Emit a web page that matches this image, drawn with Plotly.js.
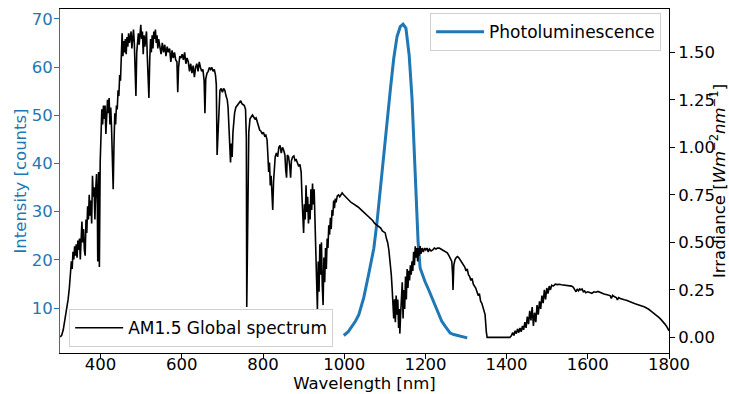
<!DOCTYPE html>
<html>
<head>
<meta charset="utf-8">
<script src="https://cdn.plot.ly/plotly-3.0.1.min.js"></script>
<style>html,body{margin:0;padding:0;background:#fff;}</style>
</head>
<body>
<div id="chart" style="width:729px;height:394px;"></div>
<script>
// AM1.5 Global spectrum (wavelength nm, irradiance W m^-2 nm^-1)
const amNm = [300,304,308,312,316,320,323,326,328,330,332,334,336,338,340,342,344,346,348,350,352,354,356,358,360,362,364,366,368,370,372,374,376,378,380,382,384,386,388,390,392,393,395,397,399,
401,403,405,407,409,411,413,415,417,419,421,423,425,427,429,431,433,435,437,439,441,443,445,447,449,451,453,455,457,459,461,463,465,467,469,471,473,475,477,479,481,483,485,487,489,491,493,495,497,499,
501,503,505,507,509,511,513,515,517,519,521,523,525,527,529,531,533,535,537,539,541,543,546,549,552,555,558,561,564,567,570,573,576,579,582,585,588,590,592,595,598,
601,604,607,610,613,616,619,622,625,628,631,634,637,640,643,646,649,652,655,657,659,662,665,668,671,674,677,680,683,685,687,689,691,694,697,
700,703,706,709,712,714,716,718,720,722,724,726,728,730,733,736,739,742,745,748,751,754,757,759,760,761,763,765,768,771,774,777,780,783,786,789,792,795,798,
801,804,807,810,812,814,816,818,820,822,824,826,828,830,833,836,839,842,845,848,851,854,856,858,860,863,866,868,870,873,876,879,882,885,888,891,894,896,898,
900,902,904,906,908,910,912,914,916,918,920,922,924,926,928,930,932,934,936,938,940,942,944,946,948,950,952,954,956,958,960,962,964,966,968,970,972,974,976,978,980,983,986,989,992,995,998,
1001,1005,1009,1013,1017,1021,1025,1030,1035,1040,1045,1050,1055,1060,1065,1070,1075,1080,1085,1090,1094,1098,
1101,1104,1107,1110,1113,1116,1118,1120,1122,1124,1126,1128,1130,1132,1134,1136,1137,1139,1141,1143,1145,1147,1149,1151,1153,1155,1157,1159,1161,1163,1165,1167,1169,1171,1173,1175,1177,1179,1181,1183,1185,1187,1189,1192,1195,1198,
1201,1204,1207,1210,1214,1218,1222,1226,1230,1234,1238,1242,1246,1250,1254,1258,1262,1265,1267,1268,1270,1273,1276,1279,1282,1285,1288,1291,1294,1297,
1300,1303,1306,1309,1312,1315,1318,1321,1324,1327,1330,1333,1336,1339,1342,1345,1347,1350,1352,1380,
1408,1412,1415,1418,1421,1424,1427,1430,1433,1436,1439,1442,1445,1448,1451,1454,1457,1460,1463,1466,1469,1472,1475,1478,1481,1484,1487,1490,1493,1496,1499,
1502,1505,1508,1511,1515,1520,1525,1530,1535,1540,1545,1550,1555,1560,1564,1568,1571,1574,1577,1580,1583,1586,1589,1592,1595,
1600,1605,1610,1615,1620,1625,1630,1635,1640,1645,1650,1655,1658,1661,1665,1670,1673,1676,1680,1685,1690,1695,
1700,1705,1710,1715,1720,1725,1730,1735,1740,1745,1750,1755,1760,1765,1770,1775,1780,1785,1790,1795,1800];
const amIrr = [0.003,0.01,0.04,0.09,0.14,0.20,0.26,0.33,0.40,0.36,0.45,0.41,0.48,0.43,0.49,0.42,0.51,0.46,0.52,0.41,0.56,0.61,0.50,0.57,0.46,0.43,0.62,0.55,0.69,0.62,0.75,0.64,0.72,0.60,0.85,0.74,0.79,0.62,0.78,0.86,0.70,0.40,0.87,0.37,0.92,
1.17,1.20,1.12,1.22,1.15,1.22,1.07,1.21,1.25,1.18,1.26,1.12,1.21,1.10,0.95,0.78,1.02,1.18,1.12,1.22,1.20,1.30,1.27,1.38,1.35,1.52,1.60,1.48,1.56,1.50,1.57,1.49,1.58,1.53,1.60,1.55,1.58,1.61,1.52,1.57,1.62,1.55,1.42,1.27,1.50,1.57,1.60,1.54,1.63,1.645,
1.57,1.61,1.49,1.59,1.53,1.58,1.61,1.48,1.30,1.26,1.46,1.57,1.50,1.59,1.52,1.61,1.57,1.62,1.55,1.59,1.52,1.57,1.53,1.49,1.55,1.50,1.54,1.48,1.53,1.50,1.52,1.45,1.51,1.47,1.50,1.46,1.45,1.29,1.42,1.48,1.47,
1.49,1.46,1.50,1.44,1.47,1.45,1.40,1.44,1.39,1.43,1.37,1.42,1.44,1.40,1.45,1.42,1.40,1.41,1.35,1.18,1.36,1.39,1.40,1.42,1.41,1.42,1.40,1.41,1.38,1.33,0.96,1.06,1.21,1.30,1.31,
1.29,1.31,1.30,1.27,1.25,1.21,1.10,0.97,0.92,1.02,0.95,1.08,1.15,1.18,1.21,1.22,1.23,1.24,1.245,1.23,1.225,1.22,1.20,1.05,0.16,0.40,0.75,1.08,1.15,1.16,1.17,1.16,1.15,1.155,1.13,1.11,1.09,1.085,1.07,
1.08,1.06,1.065,1.04,0.96,0.87,0.92,0.80,0.85,0.70,0.67,0.82,0.90,0.95,0.97,0.95,1.00,1.01,0.97,1.00,0.985,0.96,0.88,0.84,0.96,0.95,0.90,0.84,0.93,0.95,0.955,0.93,0.935,0.92,0.90,0.91,0.87,0.74,0.60,
0.55,0.70,0.62,0.80,0.66,0.74,0.60,0.70,0.62,0.78,0.67,0.81,0.70,0.78,0.57,0.44,0.30,0.15,0.40,0.24,0.49,0.33,0.50,0.27,0.17,0.42,0.29,0.47,0.36,0.52,0.47,0.59,0.54,0.63,0.57,0.67,0.64,0.72,0.68,0.73,0.71,0.745,0.75,0.74,0.755,0.76,0.752,
0.745,0.74,0.725,0.72,0.71,0.705,0.70,0.69,0.685,0.675,0.665,0.655,0.645,0.64,0.625,0.615,0.60,0.59,0.585,0.575,0.56,0.555,
0.55,0.52,0.50,0.46,0.40,0.33,0.26,0.18,0.10,0.20,0.08,0.22,0.12,0.20,0.05,0.15,0.02,0.12,0.22,0.29,0.10,0.25,0.15,0.32,0.20,0.36,0.26,0.35,0.30,0.38,0.33,0.40,0.35,0.45,0.38,0.48,0.42,0.47,0.40,0.47,0.43,0.48,0.44,0.47,0.45,0.47,
0.46,0.47,0.45,0.465,0.455,0.46,0.47,0.465,0.47,0.47,0.465,0.46,0.455,0.45,0.445,0.43,0.41,0.40,0.33,0.25,0.38,0.41,0.42,0.425,0.42,0.41,0.40,0.39,0.38,0.37,
0.35,0.36,0.33,0.32,0.30,0.31,0.28,0.27,0.26,0.24,0.22,0.23,0.19,0.18,0.16,0.13,0.12,0.03,0.0,0.0,
0.0,0.01,0.025,0.01,0.035,0.02,0.045,0.025,0.05,0.03,0.06,0.04,0.08,0.05,0.11,0.07,0.14,0.09,0.16,0.06,0.13,0.08,0.17,0.12,0.19,0.15,0.22,0.18,0.25,0.20,0.26,
0.23,0.27,0.25,0.275,0.27,0.28,0.278,0.28,0.277,0.276,0.275,0.274,0.272,0.27,0.265,0.25,0.24,0.255,0.245,0.255,0.25,0.255,0.24,0.245,0.235,
0.24,0.238,0.232,0.24,0.238,0.242,0.236,0.233,0.228,0.226,0.222,0.22,0.205,0.222,0.215,0.21,0.197,0.21,0.205,0.2,0.198,0.195,
0.19,0.188,0.182,0.178,0.175,0.17,0.168,0.164,0.16,0.155,0.148,0.14,0.132,0.125,0.115,0.105,0.095,0.085,0.07,0.055,0.035];

// Photoluminescence (wavelength nm, intensity counts)
const plNm = [999,1010,1019,1028,1036,1048,1060,1073,1081,1089,1097,1105,1114,1122,1130,1138,1145,1152,1160,1167,1172,1177,1182,1187,1193,1199,1208,1216,1224,1232,1240,1249,1255,1261,1270,1282,1292,1303];
const plVal = [4.3,5.1,6.2,7.3,8.6,12.1,16.9,22.4,28.0,34.9,41.8,48.7,55.6,61.8,66.3,68.4,68.9,68.1,62.5,53.6,43.2,32.8,23.8,18.3,16.7,15.5,13.8,12.1,10.3,8.6,7.3,6.2,5.4,4.8,4.5,4.3,4.1,3.8];

// Axis ticks
const xTicks = [400,600,800,1000,1200,1400,1600,1800];
const yLeftTicks = [10,20,30,40,50,60,70];
const yRightTicks = [0,0.25,0.5,0.75,1.0,1.25,1.5];

const BLUE = '#1f77b4';
const FONT = 'DejaVu Sans, Verdana, sans-serif';

const traces = [
  {x: plNm, y: plVal, type: 'scatter', mode: 'lines', name: 'Photoluminescence',
   line: {color: BLUE, width: 3}, yaxis: 'y', legend: 'legend2'},
  {x: amNm, y: amIrr, type: 'scatter', mode: 'lines', name: 'AM1.5 Global spectrum',
   line: {color: '#000000', width: 1.6}, yaxis: 'y2', legend: 'legend'}
];

const layout = {
  width: 729, height: 394,
  margin: {l: 60, r: 60, t: 9, b: 41, pad: 0},
  paper_bgcolor: '#ffffff', plot_bgcolor: '#ffffff',
  font: {family: FONT, size: 16.5, color: '#000000'},
  showlegend: true,
  xaxis: {
    range: [300, 1800], tickvals: xTicks, ticks: 'outside', ticklen: 5, tickwidth: 1, tickcolor: '#000',
    showline: true, linecolor: '#000', linewidth: 1, mirror: true, showgrid: false, zeroline: false,
    tickfont: {size: 16.5, color: '#000'}, ticklabelstandoff: -9,
    title: {text: 'Wavelength [nm]', font: {size: 16.5, color: '#000'}, standoff: 2},
    automargin: false
  },
  yaxis: {
    range: [0.667, 72.07], tickvals: yLeftTicks, ticks: 'outside', ticklen: 5, tickwidth: 1, tickcolor: BLUE,
    showline: true, linecolor: BLUE, linewidth: 1, showgrid: false, zeroline: false,
    tickfont: {size: 16.5, color: BLUE}, ticklabelstandoff: -2,
    title: {text: 'Intensity [counts]', font: {size: 16.5, color: BLUE}, standoff: 0},
    automargin: false
  },
  yaxis2: {
    overlaying: 'y', side: 'right', anchor: 'x',
    range: [-0.082, 1.728], tickvals: yRightTicks, tickformat: '.2f', ticks: 'outside', ticklen: 5, tickwidth: 1, tickcolor: '#000',
    showline: true, linecolor: '#000', linewidth: 1, showgrid: false, zeroline: false,
    tickfont: {size: 16.5, color: '#000'},
    title: {text: 'Irradiance [<i>Wm</i><sup>−2</sup><i>nm</i><sup>−1</sup>]', font: {size: 16.5, color: '#000'}, standoff: 14},
    automargin: false
  },
  legend: {
    x: 0.015, y: 0.017, xanchor: 'left', yanchor: 'bottom',
    bgcolor: 'rgba(255,255,255,0.85)', bordercolor: '#d0d0d0', borderwidth: 1,
    font: {size: 17, color: '#000'}, itemwidth: 48
  },
  legend2: {
    x: 0.987, y: 0.988, xanchor: 'right', yanchor: 'top',
    bgcolor: 'rgba(255,255,255,0.85)', bordercolor: '#d0d0d0', borderwidth: 1,
    font: {size: 17, color: '#000'}, itemwidth: 48
  }
};

Plotly.newPlot('chart', traces, layout, {displayModeBar: false, staticPlot: true});
</script>
</body>
</html>
